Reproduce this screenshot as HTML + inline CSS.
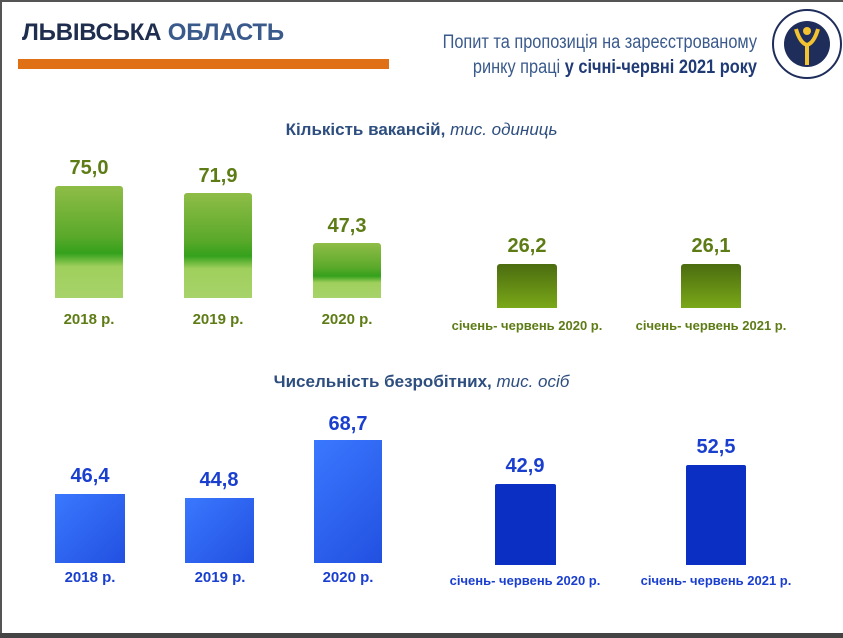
<!DOCTYPE html>
<html><head><meta charset="utf-8"><style>
body{margin:0;width:843px;height:638px;background:#fff;position:relative;overflow:hidden;font-family:"Liberation Sans",sans-serif}
.a{position:absolute}
.g{background:linear-gradient(#8fbd47 0%,#5aa92a 45%,#34a11c 60%,#9fcf5c 72%,#a7d36a 100%);border-radius:3px 3px 0 0}
.d{background:linear-gradient(#4b6c10,#7aa818);border-radius:3px 3px 0 0}
.b{background:linear-gradient(135deg,#3a78ff,#2250e0);}
.db{background:#0a2fc2;border-radius:2px 2px 0 0}
.v{position:absolute;font-weight:bold;font-size:20px;text-align:center;width:120px}
.l{position:absolute;font-weight:bold;font-size:15px;text-align:center;width:200px}
.gc{color:#5e7c16}.bc{color:#1a3fcf}
</style></head><body>
<div class="a" style="left:0;top:0;width:843px;height:2px;background:#555"></div>
<div class="a" style="left:0;top:0;width:2px;height:638px;background:#555"></div>
<div class="a" style="left:0;top:633px;width:843px;height:5px;background:#444"></div>
<div class="a" style="left:22px;top:19px;font-size:24px;font-weight:bold;color:#1f2d4e;letter-spacing:-0.2px">ЛЬВІВСЬКА <span style="color:#3a5a8c">ОБЛАСТЬ</span></div>
<div class="a" style="left:18px;top:59px;width:371px;height:10px;background:#e07016"></div>
<div class="a" style="left:300px;top:30px;width:457px;text-align:right;font-size:19px;color:#3a5a8c;line-height:25px;transform:scaleX(0.86);transform-origin:right top">Попит та пропозиція на зареєстрованому<br>ринку праці <b style="color:#1f3a75">у січні-червні 2021 року</b></div>
<svg class="a" style="left:770px;top:7px" width="74" height="74"><circle cx="37" cy="37" r="34" fill="#fff" stroke="#1f2d5a" stroke-width="2"/><circle cx="37" cy="37" r="23" fill="#1f2d5a"/><path d="M26 22 Q30 36 37 38 Q44 36 48 22" stroke="#f2c230" stroke-width="4" fill="none"/><rect x="35" y="36" width="4" height="22" fill="#f2c230"/><circle cx="37" cy="24" r="4" fill="#f2c230"/></svg>
<div class="a" style="left:0;top:120px;width:843px;text-align:center;font-size:17px;font-weight:bold;color:#2d4e7e">Кількість вакансій, <i style="font-weight:normal">тис. одиниць</i></div>
<div class="a g" style="left:55px;top:186px;width:68px;height:112px"></div>
<div class="a g" style="left:184px;top:193px;width:68px;height:105px"></div>
<div class="a g" style="left:313px;top:243px;width:68px;height:55px"></div>
<div class="a d" style="left:497px;top:264px;width:60px;height:44px"></div>
<div class="a d" style="left:681px;top:264px;width:60px;height:44px"></div>
<div class="v gc" style="left:29px;top:157px">75,0</div>
<div class="v gc" style="left:158px;top:165px">71,9</div>
<div class="v gc" style="left:287px;top:215px">47,3</div>
<div class="v gc" style="left:467px;top:235px">26,2</div>
<div class="v gc" style="left:651px;top:235px">26,1</div>
<div class="l gc" style="left:-11px;top:311px">2018 р.</div>
<div class="l gc" style="left:118px;top:311px">2019 р.</div>
<div class="l gc" style="left:247px;top:311px">2020 р.</div>
<div class="l gc" style="left:427px;top:318px;font-size:13px">січень- червень 2020 р.</div>
<div class="l gc" style="left:611px;top:318px;font-size:13px">січень- червень 2021 р.</div>
<div class="a" style="left:0;top:372px;width:843px;text-align:center;font-size:17px;font-weight:bold;color:#2d4e7e">Чисельність безробітних, <i style="font-weight:normal">тис. осіб</i></div>
<div class="a b" style="left:55px;top:494px;width:70px;height:69px"></div>
<div class="a b" style="left:185px;top:498px;width:69px;height:65px"></div>
<div class="a b" style="left:314px;top:440px;width:68px;height:123px"></div>
<div class="a db" style="left:495px;top:484px;width:61px;height:81px"></div>
<div class="a db" style="left:686px;top:465px;width:60px;height:100px"></div>
<div class="v bc" style="left:30px;top:465px">46,4</div>
<div class="v bc" style="left:159px;top:469px">44,8</div>
<div class="v bc" style="left:288px;top:413px">68,7</div>
<div class="v bc" style="left:465px;top:455px">42,9</div>
<div class="v bc" style="left:656px;top:436px">52,5</div>
<div class="l bc" style="left:-10px;top:569px">2018 р.</div>
<div class="l bc" style="left:120px;top:569px">2019 р.</div>
<div class="l bc" style="left:248px;top:569px">2020 р.</div>
<div class="l bc" style="left:425px;top:573px;font-size:13px">січень- червень 2020 р.</div>
<div class="l bc" style="left:616px;top:573px;font-size:13px">січень- червень 2021 р.</div>
</body></html>
